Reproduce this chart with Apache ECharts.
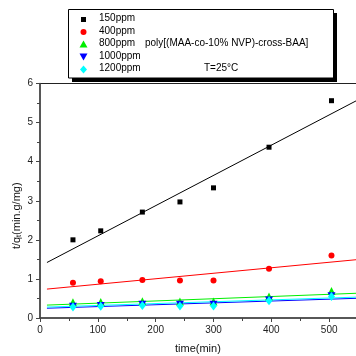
<!DOCTYPE html>
<html>
<head>
<meta charset="utf-8">
<script src="https://cdn.jsdelivr.net/npm/echarts@6/dist/echarts.min.js"></script>
<style>html,body{margin:0;padding:0;background:#fff}#c{width:356px;height:356px}</style>
</head>
<body>
<div id="c"></div>
<script>
var seriesNames = ['150ppm', '400ppm', '800ppm', '1000ppm', '1200ppm'];
var timeMin = [57, 105, 177, 242, 300, 396, 504];
var y150 = [2.00, 2.23, 2.71, 2.97, 3.33, 4.37, 5.56];
var y400 = [0.90, 0.94, 0.97, 0.96, 0.96, 1.26, 1.60];
var y800 = [0.40, 0.41, 0.43, 0.42, 0.42, 0.55, 0.69];
var y1000 = [0.30, 0.32, 0.35, 0.35, 0.35, 0.46, 0.57];
var y1200 = [0.28, 0.30, 0.32, 0.31, 0.31, 0.44, 0.55];
var fitX = [12, 560];
var fit150 = [1.42, 5.66];
var fit400 = [0.74, 1.51];
var fit800 = [0.33, 0.64];
var fit1000 = [0.25, 0.51];
var fit1200 = [0.28, 0.54];
var xTicks = [0, 100, 200, 300, 400, 500];
var yTicks = [0, 1, 2, 3, 4, 5, 6];

var colors = ['#000000', '#ff0000', '#00ee00', '#0000ff', '#00ffff'];
var symbols = ['rect', 'circle', 'triangle', 'path://M0,0 L10,0 L5,9 Z', 'diamond'];
var sizes = [5, 6, [8, 8], [8, 7], [7, 9]];
var ys = [y150, y400, y800, y1000, y1200];
var fits = [fit150, fit400, fit800, fit1000, fit1200];

function pts(xs, vs) { return xs.map(function (x, i) { return [x, vs[i]]; }); }

var series = [];
for (var i = 0; i < 5; i++) {
  series.push({
    type: 'line', name: seriesNames[i] + ' fit', data: pts(fitX, fits[i]),
    showSymbol: false, symbol: 'none', silent: true, z: 2, clip: true,
    lineStyle: { color: colors[i], width: 1 }, animation: false
  });
}
for (var j = 0; j < 5; j++) {
  series.push({
    type: 'scatter', name: seriesNames[j], data: pts(timeMin, ys[j]),
    symbol: symbols[j], symbolSize: sizes[j], z: 3 + j,
    itemStyle: { color: colors[j], opacity: 1 }, animation: false
  });
}

var lx = 83.5;
var legendRows = [19.5, 32, 44, 57, 69.5];
var gfx = [
  { type: 'rect', shape: { x: 72, y: 13, width: 265, height: 69 }, style: { fill: '#000' }, z: 100 },
  { type: 'rect', shape: { x: 68.5, y: 9.5, width: 265, height: 68.5 }, style: { fill: '#fff', stroke: '#000', lineWidth: 1 }, z: 101 },
  { type: 'rect', shape: { x: lx - 2.5, y: legendRows[0] - 2.5, width: 5, height: 5 }, style: { fill: colors[0] }, z: 102 },
  { type: 'circle', shape: { cx: lx, cy: legendRows[1], r: 3 }, style: { fill: colors[1] }, z: 102 },
  { type: 'polygon', shape: { points: [[lx - 4, legendRows[2] + 3.5], [lx + 4, legendRows[2] + 3.5], [lx, legendRows[2] - 3.5]] }, style: { fill: colors[2] }, z: 102 },
  { type: 'polygon', shape: { points: [[lx - 4, legendRows[3] - 3.5], [lx + 4, legendRows[3] - 3.5], [lx, legendRows[3] + 3.5]] }, style: { fill: colors[3] }, z: 102 },
  { type: 'polygon', shape: { points: [[lx - 3.5, legendRows[4]], [lx, legendRows[4] - 4], [lx + 3.5, legendRows[4]], [lx, legendRows[4] + 4]] }, style: { fill: colors[4] }, z: 102 },
  { type: 'text', left: 145, top: legendRows[2] - 6, style: { text: 'poly[(MAA-co-10% NVP)-cross-BAA]', font: '10px "Liberation Sans", Arial, sans-serif', fill: '#000' }, z: 102 },
  { type: 'text', left: 204, top: legendRows[4] - 6, style: { text: 'T=25°C', font: '10px "Liberation Sans", Arial, sans-serif', fill: '#000' }, z: 102 },
  { type: 'text', left: 175, top: 343, style: { text: 'time(min)', font: '11px "Liberation Sans", Arial, sans-serif', fill: '#111' }, z: 102 }
];
for (var k = 0; k < 5; k++) {
  gfx.push({ type: 'text', left: 99, top: legendRows[k] - 6, style: { text: seriesNames[k], font: '10px "Liberation Sans", Arial, sans-serif', fill: '#000' }, z: 102 });
}

var chart = echarts.init(document.getElementById('c'), null, { renderer: 'canvas' });
chart.setOption({
  animation: false,
  backgroundColor: '#fff',
  grid: { left: 40, top: 83.5, width: 347, height: 234.5, containLabel: false, outerBoundsMode: 'none', show: true, borderColor: '#222', borderWidth: 1, backgroundColor: 'transparent' },
  xAxis: {
    type: 'value', min: 0, max: 600, interval: 100,
    axisLine: { show: true, lineStyle: { color: '#444', width: 1.5 } },
    axisTick: { show: true, inside: false, length: 4, lineStyle: { color: '#444' } },
    minorTick: { show: true, splitNumber: 2, length: 3, lineStyle: { color: '#444' } },
    splitLine: { show: false },
    axisLabel: { margin: 7, fontSize: 10, color: '#222', fontFamily: 'Liberation Sans, Arial, sans-serif',
      formatter: function (v) { return xTicks.indexOf(v) >= 0 ? String(v) : ''; } }
  },
  yAxis: {
    type: 'value', min: 0, max: 6, interval: 1,
    name: '{a|t/q}{s|t}{a|(min.g/mg)}', nameLocation: 'middle', nameGap: 17, nameMoveOverlap: false,
    nameTextStyle: { rich: { a: { fontSize: 11, color: '#111', fontFamily: 'Liberation Sans, Arial, sans-serif' }, s: { fontSize: 7, color: '#111', verticalAlign: 'bottom', padding: [6, 0, 0, 0], fontFamily: 'Liberation Sans, Arial, sans-serif' } }, padding: [0, 30, 0, 0] },
    axisLine: { show: true, lineStyle: { color: '#444', width: 1.5 } },
    axisTick: { show: true, inside: false, length: 4, lineStyle: { color: '#444' } },
    minorTick: { show: true, splitNumber: 2, length: 3, lineStyle: { color: '#444' } },
    splitLine: { show: false },
    axisLabel: { margin: 7, fontSize: 10, color: '#222', fontFamily: 'Liberation Sans, Arial, sans-serif',
      formatter: function (v) { return yTicks.indexOf(v) >= 0 ? String(v) : ''; } }
  },
  graphic: gfx,
  series: series
});
</script>
</body>
</html>
